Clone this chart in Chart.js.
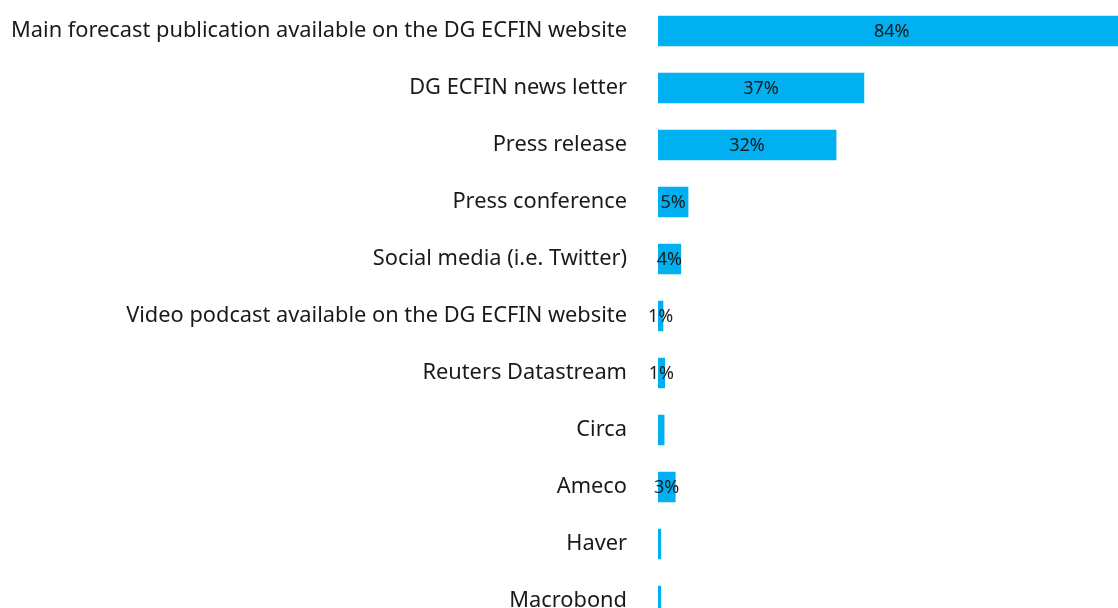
<!DOCTYPE html>
<html>
<head>
<meta charset="utf-8">
<script src="https://cdn.jsdelivr.net/npm/chart.js@4"></script>
<style>
  html, body { margin: 0; padding: 0; background: #fff; overflow: hidden; }
  #wrap { width: 1131px; height: 630px; position: relative; }
</style>
</head>
<body>
<div id="wrap"><canvas id="chart"></canvas></div>
<script>
const channels = [
  'Main forecast publication available on the DG ECFIN website',
  'DG ECFIN news letter',
  'Press release',
  'Press conference',
  'Social media (i.e. Twitter)',
  'Video podcast available on the DG ECFIN website',
  'Reuters Datastream',
  'Circa',
  'Ameco',
  'Haver',
  'Macrobond'
];
const shares = [84, 37, 32, 5.4, 4.1, 0.9, 1.2, 1.1, 3.1, 0.5, 0.5];
const shareLabels = ['84%', '37%', '32%', '5%', '4%', '1%', '1%', '', '3%', '', ''];

// draws the value text in the middle of each bar
const barText = {
  id: 'barText',
  afterDatasetsDraw(chart) {
    const ctx = chart.ctx;
    const meta = chart.getDatasetMeta(0);
    ctx.save();
    ctx.font = '18px "Noto Sans", sans-serif';
    ctx.fillStyle = '#1a1a1a';
    ctx.textAlign = 'center';
    ctx.textBaseline = 'middle';
    meta.data.forEach((bar, i) => {
      if (!shareLabels[i]) return;
      ctx.fillText(shareLabels[i], (bar.x + bar.base) / 2, bar.y + 1);
    });
    ctx.restore();
  }
};

const chart = new Chart('chart', {
  type: 'bar',
  data: {
    labels: channels,
    datasets: [{
      data: shares,
      backgroundColor: '#00b0f0',
      barThickness: 30
    }]
  },
  options: {
    indexAxis: 'y',
    responsive: true,
    maintainAspectRatio: false,
    animation: false,
    layout: { padding: { top: 2.5, bottom: 0.5, left: 0, right: 0 } },
    plugins: { legend: { display: false }, tooltip: { enabled: false } },
    scales: {
      x: { display: false, min: 0, max: 85 },
      y: {
        grid: { display: false },
        border: { display: false },
        ticks: {
          color: '#1a1a1a',
          padding: 23,
          font: { family: '"Noto Sans", sans-serif', size: 21.8 }
        },
        afterFit(axis) {
          axis.width = 658;
          axis.paddingTop = 0;
          axis.paddingBottom = 0;
        }
      }
    }
  },
  plugins: [barText]
});
</script>
</body>
</html>
